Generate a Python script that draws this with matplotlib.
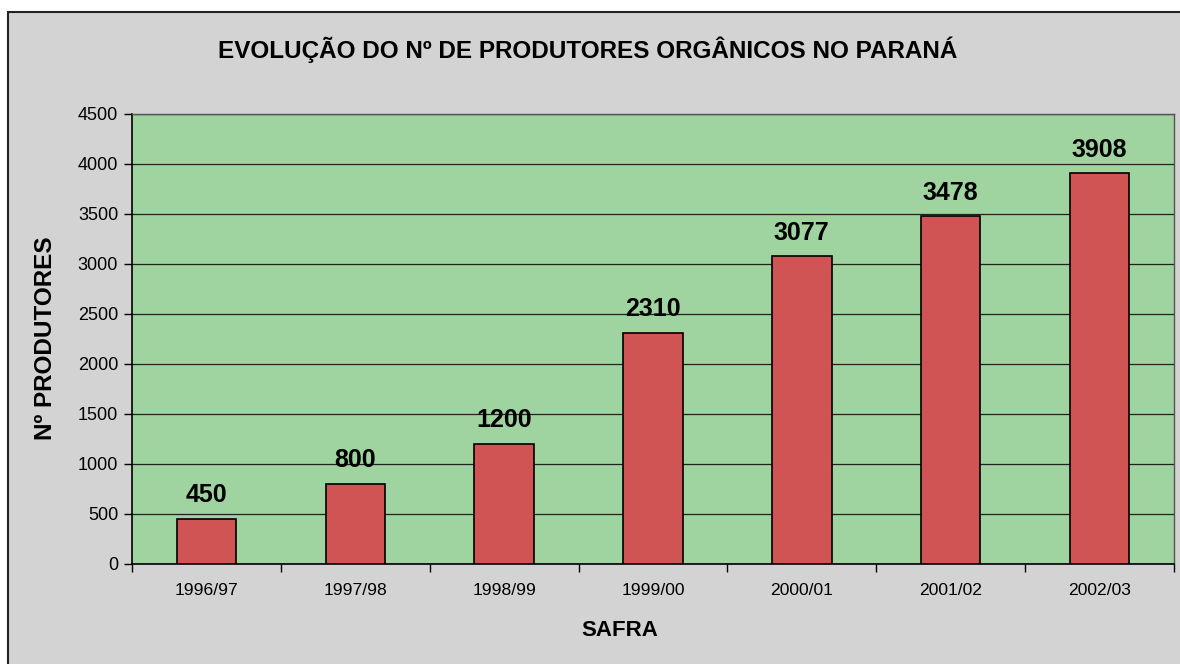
import numpy as np
import matplotlib.pyplot as plt
from matplotlib.patches import Rectangle

plt.rcParams['font.family'] = ['Liberation Sans', 'DejaVu Sans']

# -------------------------------------------------
# Dados
# -------------------------------------------------
safras = ['1996/97', '1997/98', '1998/99', '1999/00', '2000/01', '2001/02', '2002/03']
produtores = [450, 800, 1200, 2310, 3077, 3478, 3908]
y_ticks = [0, 500, 1000, 1500, 2000, 2500, 3000, 3500, 4000, 4500]

cor_fundo = '#d3d3d3'
cor_area = '#9fd39f'
cor_barra = '#d15454'

W, H = 1180, 664
fig = plt.figure(figsize=(W / 100, H / 100), dpi=100, facecolor='white')

# moldura cinza do gráfico (sai pela direita e por baixo)
fig.patches.append(Rectangle((8 / W, -0.1), 1.2, 1 - 12 / H + 0.1,
                             transform=fig.transFigure, facecolor=cor_fundo,
                             edgecolor='#222222', linewidth=1.5, zorder=-10))

ax = fig.add_axes([132 / W, 1 - 564 / H, (1174 - 132) / W, (564 - 114) / H])
ax.set_facecolor(cor_area)

x = np.arange(len(safras))
ax.bar(x, produtores, width=0.40, color=cor_barra, edgecolor='black',
       linewidth=1.2, zorder=3)

for xi, v in zip(x, produtores):
    ax.annotate(str(v), (xi, v), xytext=(0, 12), textcoords='offset points',
                ha='center', va='baseline', fontsize=18, fontweight='bold')

ax.set_xlim(-0.5, len(safras) - 0.5)
ax.set_ylim(0, 4500)
ax.set_yticks(y_ticks)
ax.yaxis.grid(True, color='#222222', linewidth=0.9, zorder=1)
ax.set_axisbelow(True)

# ticks nas divisões entre categorias, rótulos no centro
ax.set_xticks(np.arange(-0.5, len(safras), 1.0))
ax.set_xticklabels([])
ax.set_xticks(x, minor=True)
ax.set_xticklabels(safras, minor=True, fontsize=12.6)
ax.tick_params(axis='x', which='major', length=6, width=1, direction='out')
ax.tick_params(axis='x', which='minor', length=0, pad=14)
ax.tick_params(axis='y', length=6, width=1, labelsize=13, pad=4)

for s in ['top', 'right']:
    ax.spines[s].set_color('#555555')
    ax.spines[s].set_linewidth(1)
for s in ['left', 'bottom']:
    ax.spines[s].set_color('black')
    ax.spines[s].set_linewidth(1.2)

ax.set_xlabel('SAFRA', fontsize=16, fontweight='bold')
ax.xaxis.set_label_coords((620 - 132) / (1174 - 132), -(630 - 564) / (564 - 114))
ax.xaxis.label.set_va('center')
ax.set_ylabel('Nº PRODUTORES', fontsize=17.5, fontweight='bold')
ax.yaxis.set_label_coords(-(132 - 46) / (1174 - 132), (564 - 338) / (564 - 114))
ax.yaxis.label.set_va('center')

fig.text(588 / W, 1 - 50 / H, 'EVOLUÇÃO DO Nº DE PRODUTORES ORGÂNICOS NO PARANÁ',
         ha='center', va='center', fontsize=17.5, fontweight='bold')

fig.savefig('out.png', dpi=100, facecolor='white')
